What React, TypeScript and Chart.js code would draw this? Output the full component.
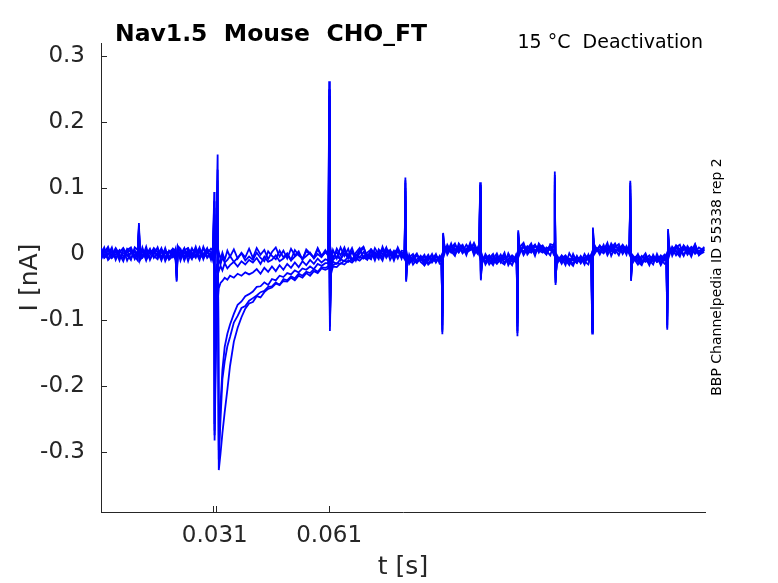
import React, { useEffect, useRef } from "react";
import { Chart, registerables } from "chart.js";
import type { Plugin } from "chart.js";

Chart.register(...registerables);

// sample times, ms
const tPre = [
  1.2, 2, 3, 4, 5, 6, 7, 8, 9, 10,
  10.8, 11.1, 11.4,
  12, 13, 14, 15, 16, 17, 18, 19, 20,
  20.7, 21, 21.3,
  22, 23, 24, 25, 26, 27, 28, 29, 30,
  30.5,
];
const tStep = [
  30.85, 30.95, 31.3, 31.75, 32.05, 32.5, 33, 33.6, 34.3, 35, 36, 37, 38, 39, 40,
  41, 42, 43, 44, 45, 46, 47, 48, 49, 50, 51, 52, 53, 54, 55, 56, 57, 58, 59, 60,
];
const tPost = [
  60.8, 61, 61.2, 61.5, 62, 63, 64, 65, 66, 67, 68, 69, 70, 71, 72, 73, 74, 75, 76, 77, 78, 79, 80,
  80.8, 81, 81.2, 81.5, 82, 83, 84, 85, 86, 87, 88, 89, 90,
  90.5, 90.7, 90.9, 91.2, 92, 93, 94, 95, 96, 97, 98, 99, 100,
  100.4, 100.6, 100.8, 101.1, 102, 103, 104, 105, 106, 107, 108, 109, 110,
  110.2, 110.4, 110.6, 110.9, 112, 113, 114, 115, 116, 117, 118, 119,
  120, 120.2, 120.4, 120.7, 122, 123, 124, 125, 126, 127, 128, 129,
  129.8, 130, 130.2, 130.5, 132, 133, 134, 135, 136, 137, 138, 139,
  139.8, 140, 140.2, 140.5, 142, 143, 144, 145, 146, 147, 148, 149,
  149.5, 149.7, 149.9, 150.2, 151, 152, 153, 154, 155, 156, 157, 158, 159.4,
];

// currents, pA — before the step
const preA = [3, -5, 6, -2, 8, -6, 1, 5, -7, 4, -3, 47, -6, 6, -4, 2, 7, -5, 3, -8, 5, -1, 4, -42, 9, -5, 7, -3, 2, -6, 8, -2, 5, -7, 2];
const preB = [-4, 7, -1, 5, -6, 3, 9, -3, 2, -5, 4, 40, -4, -2, 6, -7, 1, 8, -4, 3, -6, 7, -3, -36, 11, 3, -6, 8, -1, 5, -4, 9, -6, 1, -2];
const preC = [6, 0, -7, 4, 2, -3, -6, 8, 3, -2, 5, 44, -8, 4, -1, 8, -6, 2, 6, -3, -7, 4, 7, -40, 6, -7, 2, -4, 9, -3, 4, -6, 1, 8, 5];
const preD = [-2, 4, 8, -6, -1, 6, -4, 2, 7, -8, 0, 38, -5, -6, 3, 5, -3, -8, 7, 1, 4, -5, -1, -33, 8, 6, -3, 1, -8, 7, 2, -5, 4, -3, -6];
const preE = [9, -6, -1, 10, -9, 4, 7, -10, 2, 6, -7, 35, -3, 10, -8, -2, 9, 3, -10, 6, -5, 1, -9, -30, 12, 8, -10, 4, -4, 11, -7, 0, 9, -9, 4];
const preF = [-8, 2, 11, -5, 5, -10, 8, -1, -9, 10, 6, 31, -9, -5, 11, -9, 4, -2, 9, -11, 2, 8, 5, -28, 7, -10, 6, 9, -6, -2, 10, -8, 7, 3, -9];
const preG = [1, 10, -9, -3, 9, 0, -11, 6, 10, -4, -10, 27, 2, 7, -10, 6, -1, 10, -7, 9, -9, -3, 8, -25, 3, -1, 9, -11, 7, 3, -9, 11, -4, -1, 7];

// step and tail currents
const stepA = [
  4, -3, 6, 151, -328, -303, -272, -240, -206, -170, -133, -112, -96, -83, -75,
  -73, -64, -66, -58, -53, -51, -45, -47, -41, -42, -36, -40, -33, -36, -29, -33, -26, -29, -22, -24,
];
const stepB = [
  -2, 5, -4, 128, -312, -252, -190, -163, -140, -126, -104, -94, -82, -79, -71,
  -67, -63, -58, -56, -50, -49, -43, -47, -38, -40, -34, -37, -30, -33, -27, -29, -23, -27, -20, -21,
];
const stepC = [
  3, -5, 2, 112, -298, -228, -176, -141, -121, -107, -91, -77, -72, -64, -61,
  -57, -50, -49, -43, -47, -38, -40, -33, -35, -29, -31, -25, -28, -22, -24, -19, -23, -15, -18, -14,
];
const stepD = [
  94, -283, -150, -72, -52, -44, -41, -36, -39, -33, -36, -30, -33, -28, -31,
  -28, -23, -30, -21, -27, -19, -26, -17, -24, -15, -21, -13, -20, -11, -17, -9, -15, -7, -13, -8,
];
const stepE = [
  80, -275, -95, -32, -26, -18, -25, -14, -22, -17, -12, -19, -11, -16, -9,
  -13, -6, -15, -4, -12, -9, -2, -11, -7, -1, -10, -4, 1, -8, -3, 2, -7, 0, -5, 3,
];
const stepF = [
  70, -268, -60, -18, -9, -16, -5, -13, -9, -3, -12, -6, 1, -10, -4,
  -9, 2, -6, -11, 4, -3, -8, 5, -5, 1, -9, 6, -2, -7, 4, 0, -6, 7, -3, 2,
];
const stepG = [
  60, -258, -30, -6, 3, -8, 2, -9, 5, -4, 7, -7, 2, -5, 8,
  -6, 9, -1, 6, -8, 3, 10, -4, 5, -7, 8, -2, 4, -9, 7, 1, -5, 9, -3, 6,
];

// pulse train currents
const postA = [
  -22, 262, -117, -30, -19, -20, -14, -16, -10, -13, -7, -10, -4, -8, -1, -6, 2, -5, 3, -3, 5, -4, 2,
  1, 116, -42, -4, -10, -3, -12, -6, -9, -1, -13, -5, -8,
  -6, -122, 32, 10, 3, 11, 5, 12, 1, 8, 13, 4, 9,
  6, 109, -40, -5, -11, -4, -9, -15, -6, -2, -12, -7, -10,
  -9, -125, 36, 9, 4, 12, 6, 1, 10, 13, 3, 8,
  7, 125, -47, -4, -10, -6, -13, -2, -9, -11, -5, -8,
  -8, -121, 40, 8, 3, 11, 6, 13, 2, 9, 5, 10,
  5, 111, -41, -6, -11, -3, -9, -14, -5, -10, -2, -8,
  -7, -115, 38, 6, 1, 9, 4, 11, -1, 7, 2, 10, 5,
];
const postB = [
  -19, 240, -104, -24, -17, -14, -15, -10, -12, -7, -9, -4, -7, -1, -5, 3, -4, 5, -2, 6, -5, 4, -3,
  -2, 108, -38, -9, -4, -11, -2, -8, -14, -5, -7, -12, -3,
  -9, -115, 28, 6, 9, 2, 13, 6, 10, 3, 7, 14, 2,
  9, 102, -36, -8, -3, -12, -6, -10, -1, -13, -8, -4, -11,
  -6, -117, 31, 5, 11, 3, 9, 14, 5, 2, 10, 6,
  3, 116, -42, -9, -3, -12, -7, -10, -4, -14, -6, -2,
  -4, -114, 34, 5, 10, 4, 12, 7, 1, 11, 8, 3,
  9, 104, -37, -10, -5, -12, -7, -2, -11, -6, -13, -4,
  -10, -108, 33, 3, 8, -2, 6, 12, 3, 9, 0, 5, 8,
];
const postC = [
  -14, 225, -110, -20, -12, -15, -8, -11, -4, -9, -1, -6, 3, -5, 6, -3, 4, -6, 7, -2, 3, -7, 5,
  4, 112, -40, -6, -13, -7, -1, -10, -4, -15, -6, -2, -11,
  -4, -118, 30, 8, 12, 7, 1, 9, 4, 14, 6, 10, 3,
  3, 105, -38, -10, -7, -2, -14, -5, -11, -8, -3, -12, -6,
  -11, -120, 33, 7, 2, 8, 13, 5, 11, 4, 7, 12,
  10, 120, -44, -6, -12, -4, -9, -15, -5, -8, -11, -3,
  -11, -118, 37, 11, 6, 1, 9, 4, 13, 6, 2, 12,
  2, 108, -39, -4, -8, -15, -3, -9, -6, -12, -7, -1,
  -4, -112, 35, 9, 4, 12, 0, 7, 10, 2, 8, -1, 3,
];
const postD = [
  -10, 250, -98, -15, -9, -4, -8, 1, -6, 4, -3, 6, -5, 2, 7, -4, 1, 8, -6, 3, -2, 6, -5,
  -3, 100, -35, -8, -5, -9, -14, -3, -11, -7, -2, -10, -6,
  -8, -108, 25, 5, 6, 13, 8, 2, 11, 5, 12, 1, 7,
  8, 96, -33, -6, -13, -8, -3, -10, -5, -14, -9, -2, -7,
  -5, -110, 28, 4, 10, 6, 2, 12, 7, 9, 1, 11,
  5, 110, -39, -11, -7, -2, -10, -6, -13, -4, -9, -7,
  -6, -106, 30, 3, 12, 8, 5, 10, 3, 7, 14, 6,
  7, 98, -34, -8, -2, -9, -12, -6, -4, -11, -5, -10,
  -8, -100, 29, 2, 10, 5, -1, 8, 3, 11, 6, 2, 7,
];
const postE = [
  -3, 180, -90, -12, -5, 3, -9, 6, -2, 9, -8, 1, 10, -6, 4, -10, 7, -1, 10, -9, 2, 8, -7,
  6, 95, -30, -14, -1, -16, -8, -3, -17, -10, 0, -13, -4,
  -12, -100, 22, 15, -1, 9, 16, 3, 12, -2, 15, 7, 0,
  12, 92, -30, -15, 0, -9, -17, -3, -12, -16, 1, -10, -5,
  -13, -105, 26, 14, -2, 8, 16, 0, 13, 5, -1, 15,
  13, 105, -36, -16, -2, -9, -17, 0, -13, -5, -16, -1,
  -14, -100, 27, 15, -1, 10, 2, 16, 7, -2, 13, 4,
  12, 92, -30, -15, 0, -14, -6, -17, -1, -12, -8, -15,
  -13, -95, 24, 13, -3, 10, 14, -2, 8, -4, 12, 1, 11,
];
const postF = [
  4, 160, -80, -8, 6, -7, 10, -3, 8, -10, 2, 9, -5, -9, 7, 1, -8, 11, -4, 5, -10, 6, 0,
  -8, 88, -27, -2, -15, -6, 1, -12, -17, -4, -9, 0, -15,
  -15, -95, 20, -1, 14, 4, -3, 16, 8, 1, 17, -2, 10,
  -1, 88, -28, -1, -16, -6, 0, -14, -9, 2, -17, -7, -13,
  1, -98, 24, -1, 15, 3, 11, -3, 16, 8, 0, 12,
  -2, 98, -33, -1, -15, -4, -12, -18, -3, -14, 0, -10,
  0, -96, 25, -1, 13, 5, 17, -3, 10, 15, 0, 9,
  -1, 88, -28, -1, -12, -17, -3, -9, -16, 0, -13, -5,
  -2, -90, 22, -3, 11, 3, -4, 13, 6, -2, 14, 0, 9,
];
const postG = [
  -1, 140, -70, 5, -9, 8, -2, 10, -7, 3, -10, 6, 11, -4, -8, 9, -1, -10, 8, 3, -7, 10, -3,
  3, 80, -25, -16, -5, 0, -13, -8, -1, -16, -11, -3, -9,
  -2, -90, 18, 12, 3, 16, -1, 9, 14, 2, 6, 17, 4,
  14, 85, -26, -12, -4, -16, -8, 1, -13, -4, -10, -17, -2,
  -15, -92, 22, 10, 17, -1, 7, 14, 2, 12, 5, -2,
  16, 92, -30, -12, -6, -17, 1, -9, -14, -3, -11, -16,
  -1, -90, 22, 12, 2, 14, -2, 9, 16, 4, 11, -1,
  15, 85, -26, -3, -16, -7, 1, -13, -10, -4, -17, -6,
  0, -85, 20, 10, 1, 13, 7, -3, 12, 4, 15, -2, 6,
];

// axis ticks (s / nA)
const xTickLabels = [0.031, 0.061];
const xTickMarks = [0.0305, 0.0314, 0.061];
const yTicks = [-0.3, -0.2, -0.1, 0, 0.1, 0.2, 0.3];

const titleText = "Nav1.5  Mouse  CHO_FT";
const infoText = "15 °C  Deactivation";
const sideText = "BBP Channelpedia ID 55338 rep 2";

const AXIS_COLOR = "#262626";
const TRACE_COLOR = "#0000ff";
const FONT = '"DejaVu Sans", sans-serif';

const toPoints = (times: number[], values: number[]) =>
  times.map((t, i) => ({ x: t / 1000, y: values[i] / 1000 }));

const fullTimes = [...tPre, ...tStep, ...tPost];
const sweeps = [
  [...preA, ...stepA, ...postA],
  [...preB, ...stepB, ...postB],
  [...preC, ...stepC, ...postC],
  [...preD, ...stepD, ...postD],
  [...preE, ...stepE, ...postE],
  [...preF, ...stepF, ...postF],
  [...preG, ...stepG, ...postG],
].map((values) => toPoints(fullTimes, values));

const decor: Plugin<"line"> = {
  id: "decor",
  beforeDatasetsDraw(chart) {
    const { ctx, chartArea, scales } = chart;
    ctx.save();
    ctx.strokeStyle = AXIS_COLOR;
    ctx.lineWidth = 1;
    ctx.beginPath();
    yTicks.forEach((v) => {
      const py = Math.round(scales.y.getPixelForValue(v)) + 0.5;
      ctx.moveTo(chartArea.left, py);
      ctx.lineTo(chartArea.left + 6, py);
    });
    xTickMarks.forEach((v) => {
      const px = Math.round(scales.x.getPixelForValue(v)) + 0.5;
      ctx.moveTo(px, chartArea.bottom);
      ctx.lineTo(px, chartArea.bottom - 6);
    });
    ctx.stroke();
    ctx.restore();
  },
  afterDraw(chart) {
    const { ctx } = chart;
    ctx.save();
    ctx.fillStyle = "#000";
    ctx.textBaseline = "alphabetic";
    ctx.font = `bold 23.5px ${FONT}`;
    ctx.textAlign = "left";
    ctx.fillText(titleText, 115, 41);
    ctx.font = `19px ${FONT}`;
    ctx.textAlign = "right";
    ctx.fillText(infoText, 703, 48);
    ctx.translate(717, 277);
    ctx.rotate(-Math.PI / 2);
    ctx.font = `14px ${FONT}`;
    ctx.textAlign = "center";
    ctx.textBaseline = "middle";
    ctx.fillText(sideText, 0, 0);
    ctx.restore();
  },
};

const CurrentTraces: React.FC = () => {
  const canvasRef = useRef<HTMLCanvasElement | null>(null);

  useEffect(() => {
    if (!canvasRef.current) return;
    const chart = new Chart(canvasRef.current, {
      type: "line",
      data: {
        datasets: sweeps.map((data) => ({
          data,
          borderColor: TRACE_COLOR,
          borderWidth: 1.8,
          pointRadius: 0,
          tension: 0,
          fill: false,
        })),
      },
      options: {
        animation: false,
        responsive: true,
        maintainAspectRatio: false,
        events: [],
        layout: { padding: { top: 43, right: 73, bottom: 0, left: 0 } },
        plugins: { legend: { display: false }, tooltip: { enabled: false } },
        scales: {
          x: {
            type: "linear",
            min: 0.00115,
            max: 0.1596,
            grid: { display: false, drawTicks: false },
            border: { display: true, color: AXIS_COLOR, width: 1 },
            afterBuildTicks: (axis) => {
              axis.ticks = xTickLabels.map((value) => ({ value }));
            },
            afterFit: (axis) => {
              axis.height = 71;
            },
            ticks: {
              autoSkip: false,
              maxRotation: 0,
              padding: 10,
              color: AXIS_COLOR,
              font: { family: FONT, size: 23 },
              callback: (v) => Number(v).toFixed(3),
            },
            title: {
              display: true,
              text: "t [s]",
              color: AXIS_COLOR,
              font: { family: FONT, size: 25 },
              padding: { top: 0, bottom: 1 },
            },
          },
          y: {
            type: "linear",
            min: -0.3916,
            max: 0.3202,
            grid: { display: false, drawTicks: false },
            border: { display: true, color: AXIS_COLOR, width: 1 },
            afterBuildTicks: (axis) => {
              axis.ticks = yTicks.map((value) => ({ value }));
            },
            afterFit: (axis) => {
              axis.width = 101;
            },
            ticks: {
              padding: 16,
              color: AXIS_COLOR,
              font: { family: FONT, size: 23 },
              callback: (v) => (Number(v) === 0 ? "0" : Number(v).toFixed(1)),
            },
            title: {
              display: true,
              text: "I [nA]",
              color: AXIS_COLOR,
              font: { family: FONT, size: 25 },
              padding: { top: 15, bottom: 0 },
            },
          },
        },
      },
      plugins: [decor],
    });

    return () => {
      chart.destroy();
    };
  }, []);

  return (
    <div style={{ position: "fixed", left: 0, top: 0, width: 778, height: 583, background: "#fff" }}>
      <canvas ref={canvasRef}></canvas>
    </div>
  );
};

export default function App() {
  return <CurrentTraces />;
}
